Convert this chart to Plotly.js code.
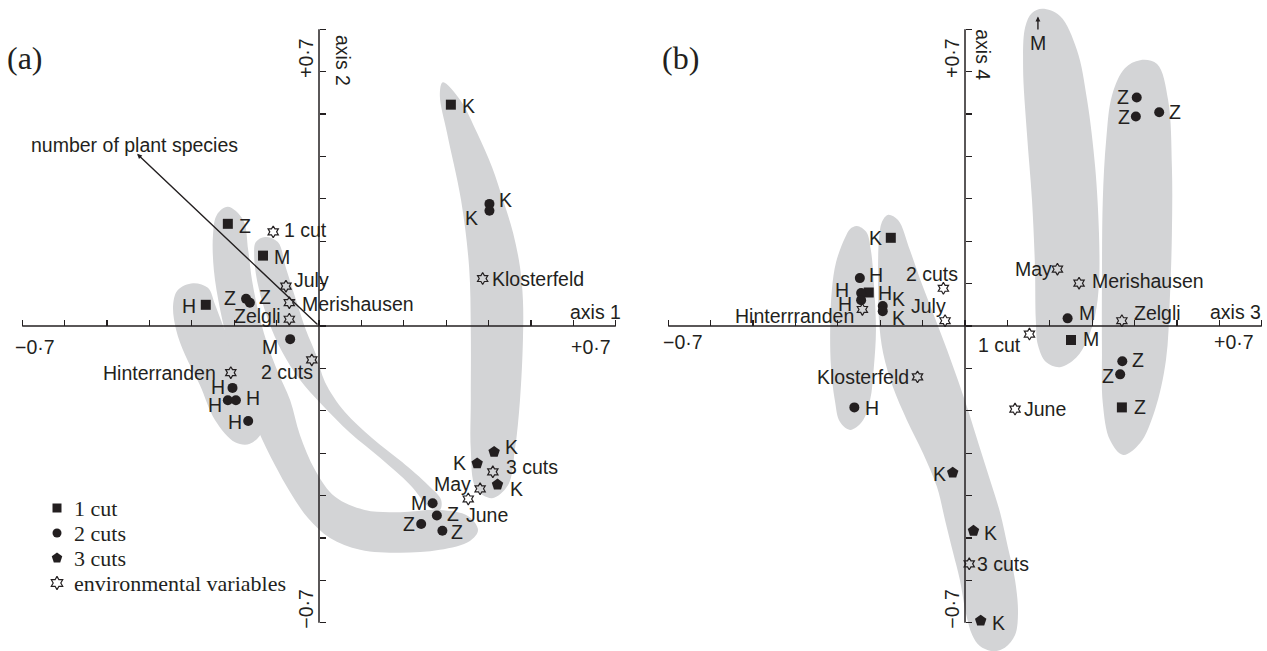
<!DOCTYPE html>
<html><head><meta charset="utf-8">
<script src="https://cdn.plot.ly/plotly-3.0.1.min.js"></script>
<style>html,body{margin:0;padding:0;background:#fff;} #chart{width:1267px;height:651px;}</style>
</head><body><div id="chart"></div>
<script>
// ---------- DATA ----------
const tickVals = [-0.7,-0.6,-0.5,-0.4,-0.3,-0.2,-0.1,0,0.1,0.2,0.3,0.4,0.5,0.6,0.7];
const tickEndLabels = ['\u22120\u00B77', '+0\u00B77'];
const axisNames = ['axis 1','axis 2','axis 3','axis 4'];
const panelNames = ['(a)','(b)'];
const groupNames = ['1 cut','2 cuts','3 cuts','environmental variables'];
const speciesVectorName = 'number of plant species';
const speciesVector = [-0.429, 0.406];   // axis 1, axis 2 scores

// Panel (a): axis 1 x axis 2
const a_cut1_x = [0.311, -0.215, -0.132, -0.267];
const a_cut1_y = [0.522, 0.241, 0.166, 0.050];
const a_cut1_lab = ['K','Z','M','H'];
const a_cut2_x = [0.402, 0.402, -0.172, -0.163, -0.068, -0.204, -0.215, -0.196, -0.167, 0.268, 0.278, 0.241, 0.291];
const a_cut2_y = [0.288, 0.272, 0.064, 0.055, -0.031, -0.146, -0.175, -0.175, -0.224, -0.418, -0.447, -0.467, -0.483];
const a_cut2_lab = ['K','K','Z','Z','M','H','H','H','H','M','Z','Z','Z'];
const a_cut3_x = [0.413, 0.373, 0.421];
const a_cut3_y = [-0.297, -0.324, -0.374];
const a_cut3_lab = ['K','K','K'];
const a_env_x = [-0.108, -0.078, -0.070, -0.070, -0.017, -0.208, 0.386, 0.410, 0.380, 0.352];
const a_env_y = [0.222, 0.094, 0.055, 0.016, -0.080, -0.110, 0.112, -0.344, -0.384, -0.408];
const a_env_lab = ['1 cut','July','Merishausen','Zelgli','2 cuts','Hinterranden','Klosterfeld','3 cuts','May','June'];

// Panel (b): axis 3 x axis 4
const b_cut1_x = [-0.175, -0.227, 0.250, 0.370];
const b_cut1_y = [0.208, 0.079, -0.033, -0.192];
const b_cut1_lab = ['K','H','M','Z'];
const b_cut2_x = [-0.248, -0.245, -0.245, -0.194, -0.194, -0.261, 0.405, 0.403, 0.458, 0.242, 0.371, 0.366];
const b_cut2_y = [0.113, 0.078, 0.061, 0.047, 0.035, -0.192, 0.539, 0.494, 0.504, 0.018, -0.083, -0.114];
const b_cut2_lab = ['H','H','H','K','K','H','Z','Z','Z','M','Z','Z'];
const b_cut3_x = [-0.029, 0.020, 0.037];
const b_cut3_y = [-0.346, -0.483, -0.695];
const b_cut3_lab = ['K','K','K'];
const b_env_x = [-0.242, -0.051, -0.047, -0.112, 0.152, 0.118, 0.218, 0.269, 0.370, 0.010];
const b_env_y = [0.039, 0.089, 0.0125, -0.120, -0.019, -0.196, 0.134, 0.101, 0.0125, -0.561];
const b_env_lab = ['Hinterrranden','2 cuts','July','Klosterfeld','1 cut','June','May','Merishausen','Zelgli','3 cuts'];
// off-scale site (axis 4 beyond +0.7)
const b_offscale_x = 0.172;
const b_offscale_lab = 'M';

// Grey site hulls (outline vertices, ordination units)
const a_hullK_x = [0.292,0.333,0.373,0.408,0.434,0.458,0.474,0.481,0.481,0.474,0.462,0.446,0.408,0.370,0.358,0.358,0.358,0.354,0.335,0.302,0.285];
const a_hullK_y = [0.575,0.533,0.455,0.375,0.297,0.219,0.139,0.061,-0.033,-0.175,-0.292,-0.375,-0.406,-0.382,-0.292,-0.175,-0.009,0.139,0.297,0.455,0.545];
const a_hullH_x = [-0.297,-0.262,-0.245,-0.222,-0.191,-0.158,-0.134,-0.132,-0.163,-0.198,-0.245,-0.281,-0.316,-0.337,-0.344,-0.333];
const a_hullH_y = [0.101,0.090,0.050,-0.009,-0.068,-0.139,-0.198,-0.245,-0.278,-0.274,-0.222,-0.139,-0.068,-0.009,0.050,0.085];
const a_hullZ_x = [-0.215,-0.179,-0.167,-0.158,-0.144,-0.125,-0.099,-0.068,-0.045,-0.009,0.038,0.108,0.191,0.285,0.351,0.375,0.356,0.285,0.191,0.097,0.026,-0.026,-0.068,-0.104,-0.144,-0.179,-0.210,-0.233,-0.248,-0.250,-0.241];
const a_hullZ_y = [0.281,0.250,0.179,0.108,0.038,-0.033,-0.104,-0.175,-0.257,-0.340,-0.403,-0.434,-0.439,-0.434,-0.448,-0.481,-0.507,-0.528,-0.535,-0.528,-0.500,-0.453,-0.392,-0.328,-0.245,-0.151,-0.057,0.038,0.132,0.215,0.262];
const a_hullM_x = [-0.127,-0.097,-0.078,-0.054,-0.031,-0.007,0.014,0.061,0.125,0.196,0.257,0.288,0.285,0.262,0.215,0.144,0.073,0.007,-0.045,-0.087,-0.120,-0.144,-0.153,-0.149];
const a_hullM_y = [0.210,0.198,0.137,0.061,-0.009,-0.068,-0.132,-0.203,-0.264,-0.321,-0.375,-0.410,-0.434,-0.429,-0.375,-0.311,-0.252,-0.186,-0.127,-0.061,0.014,0.097,0.167,0.198];

const b_hullH_x = [-0.255,-0.233,-0.222,-0.215,-0.210,-0.215,-0.224,-0.243,-0.271,-0.295,-0.307,-0.316,-0.318,-0.314,-0.304,-0.283,-0.271];
const b_hullH_y = [0.236,0.222,0.179,0.101,-0.009,-0.097,-0.175,-0.226,-0.245,-0.226,-0.175,-0.097,-0.009,0.085,0.151,0.208,0.229];
const b_hullK_x = [-0.182,-0.158,-0.130,-0.101,-0.071,-0.042,-0.017,0.007,0.033,0.059,0.083,0.101,0.118,0.125,0.118,0.094,0.066,0.035,0.017,0.002,-0.012,-0.028,-0.047,-0.066,-0.099,-0.137,-0.170,-0.193,-0.203,-0.205,-0.203,-0.196];
const b_hullK_y = [0.262,0.250,0.179,0.097,0.019,-0.057,-0.127,-0.198,-0.281,-0.363,-0.441,-0.521,-0.599,-0.677,-0.729,-0.759,-0.767,-0.755,-0.729,-0.677,-0.599,-0.535,-0.458,-0.380,-0.300,-0.222,-0.144,-0.064,0.014,0.108,0.203,0.245];
const b_hullM_x = [0.182,0.224,0.264,0.288,0.307,0.316,0.316,0.307,0.288,0.262,0.224,0.191,0.172,0.167,0.165,0.158,0.146,0.137,0.142,0.158];
const b_hullM_y = [0.748,0.731,0.651,0.533,0.375,0.219,0.101,0.026,-0.033,-0.075,-0.097,-0.085,-0.045,0.014,0.139,0.297,0.455,0.611,0.705,0.738];
const b_hullZ_x = [0.413,0.453,0.479,0.488,0.488,0.483,0.474,0.448,0.413,0.373,0.342,0.325,0.323,0.323,0.325,0.333,0.347,0.377];
const b_hullZ_y = [0.627,0.618,0.533,0.375,0.219,0.061,-0.080,-0.198,-0.276,-0.304,-0.269,-0.182,-0.057,0.108,0.297,0.439,0.545,0.608];

// ---------- STYLE ----------
const INK = '#231f20';
const GREY = '#d3d4d6';
const SANS = 'Liberation Sans, Arial, sans-serif';
const SERIF = 'Liberation Serif, Times New Roman, serif';
const LBL = 19.5;

// label placement: [anchor (l/r/c), x offset px, y offset px (down +)]
const a_cut1_off = [['l',10,1],['l',10,2],['l',10,1],['r',-9,1]];
const a_cut2_off = [['l',9,-4],['r',-10,7],['r',-9,-1],['l',8,-6],['r',-11,8],['r',-7,-1],['r',-5,5],['l',9,-2],['r',-5,1],['r',-5,0],['l',9,-2],['r',-5,0],['l',8,1]];
const a_cut3_off = [['l',10,-5],['r',-10,0],['l',11,4]];
const a_env_off = [['l',10,-2],['l',7,-6],['l',12,1],['r',-7,-3],['r',2,12],['r',-14,0],['l',8,0],['l',12,-5],['r',-8,-5],['l',-3,16]];
const b_cut1_off = [['r',-8,0],['l',8,0],['l',11,-1],['l',11,0]];
const b_cut2_off = [['l',8,-3],['r',-11,-3],['r',-8,4],['l',8,-7],['l',8,7],['l',10,1],['r',-7,0],['r',-5,0],['l',9,0],['l',10,-5],['l',9,-1],['r',-5,2]];
const b_cut3_off = [['r',-6,1],['l',10,2],['l',10,2]];
const b_env_off = [['r',-7,7],['c',-11,-14],['r',2,-15],['r',-8,0],['r',-7,11],['l',8,0],['r',-4,0],['l',12,-2],['l',11,-8],['l',7,0]];

const symbols = [
  {symbol:'square', size:10, line:{width:0}},
  {symbol:'circle', size:10, line:{width:0}},
  {symbol:'pentagon', size:12, line:{width:0}},
  {symbol:'hexagram-open', size:9, line:{width:1.2, color:INK}}
];

const W = 1267, H = 651;
const traces = [];
const ann = [];

function hull(x, y, xa, ya) {
  traces.push({type:'scatter', mode:'lines', x:x.concat([x[0]]), y:y.concat([y[0]]), xaxis:xa, yaxis:ya,
    fill:'toself', fillcolor:GREY, line:{width:0, shape:'spline', smoothing:1, color:GREY},
    hoverinfo:'skip', showlegend:false});
}
hull(a_hullK_x, a_hullK_y, 'x', 'y');
hull(a_hullH_x, a_hullH_y, 'x', 'y');
hull(a_hullZ_x, a_hullZ_y, 'x', 'y');
hull(a_hullM_x, a_hullM_y, 'x', 'y');
hull(b_hullH_x, b_hullH_y, 'x2', 'y2');
hull(b_hullK_x, b_hullK_y, 'x2', 'y2');
hull(b_hullM_x, b_hullM_y, 'x2', 'y2');
hull(b_hullZ_x, b_hullZ_y, 'x2', 'y2');

const ANCH = {l:'left', r:'right', c:'center'};
function series(x, y, lab, off, g, xa, ya) {
  const s = symbols[g];
  traces.push({type:'scatter', mode:'markers', x:x, y:y, xaxis:xa, yaxis:ya, name:groupNames[g],
    showlegend:false, cliponaxis:false,
    marker:{symbol:s.symbol, size:s.size, color:INK, line:s.line}, hoverinfo:'skip'});
  for (let i = 0; i < x.length; i++) {
    const o = off[i];
    ann.push({xref:xa, yref:ya, x:x[i], y:y[i], text:lab[i], showarrow:false,
      xanchor:ANCH[o[0]], yanchor:'middle', xshift:o[1], yshift:-o[2], borderpad:0,
      font:{family:SANS, size:LBL, color:INK}});
  }
}
series(a_cut1_x, a_cut1_y, a_cut1_lab, a_cut1_off, 0, 'x', 'y');
series(a_cut2_x, a_cut2_y, a_cut2_lab, a_cut2_off, 1, 'x', 'y');
series(a_cut3_x, a_cut3_y, a_cut3_lab, a_cut3_off, 2, 'x', 'y');
series(a_env_x, a_env_y, a_env_lab, a_env_off, 3, 'x', 'y');
series(b_cut1_x, b_cut1_y, b_cut1_lab, b_cut1_off, 0, 'x2', 'y2');
series(b_cut2_x, b_cut2_y, b_cut2_lab, b_cut2_off, 1, 'x2', 'y2');
series(b_cut3_x, b_cut3_y, b_cut3_lab, b_cut3_off, 2, 'x2', 'y2');
series(b_env_x, b_env_y, b_env_lab, b_env_off, 3, 'x2', 'y2');

// key (legend) drawn on its own pixel-unit axes
const keyX = 57, keyTextX = 73, keyRow0 = 508, keyRowGap = 25;
const keySizes = [9, 9, 11, 10];
groupNames.forEach((nm, g) => {
  const s = symbols[g];
  traces.push({type:'scatter', mode:'markers', x:[keyX], y:[keyRow0 + g * keyRowGap], xaxis:'x3', yaxis:'y3',
    marker:{symbol:s.symbol, size:keySizes[g], color:INK, line:s.line}, showlegend:false, hoverinfo:'skip', cliponaxis:false});
  ann.push({xref:'x3', yref:'y3', x:keyTextX, y:keyRow0 + g * keyRowGap, text:nm, showarrow:false,
    xanchor:'left', yanchor:'middle', borderpad:0, font:{family:SERIF, size:22, color:INK}});
});

// ---------- AXES ----------
const unitPx = 424;              // pixels per ordination unit
const origA = [319, 326], origB = [965, 326];
const yRange = [-(H - origA[1]) / unitPx, origA[1] / unitPx];
const xRangeA = [-(origA[0]) / unitPx, (W/2 - origA[0]) / unitPx];
const xRangeB = [-(origB[0] - W/2) / unitPx, (W - origB[0]) / unitPx];

const axBase = {showgrid:false, zeroline:false, showline:false, showticklabels:false,
  ticks:'inside', ticklen:6, tickwidth:1.3, tickcolor:INK, tickmode:'array', tickvals:tickVals,
  anchor:'free', fixedrange:true};

const shapes = [];
function axisLines(xa, ya) {
  shapes.push({type:'line', xref:xa, yref:ya, x0:tickVals[0], x1:tickVals[tickVals.length-1], y0:0, y1:0, line:{color:INK, width:1.5}});
  shapes.push({type:'line', xref:xa, yref:ya, y0:tickVals[0], y1:tickVals[tickVals.length-1], x0:0, x1:0, line:{color:INK, width:1.5}});
}
axisLines('x','y');
axisLines('x2','y2');

function txt(xa, ya, x, y, t, opts) {
  ann.push(Object.assign({xref:xa, yref:ya, x:x, y:y, text:t, showarrow:false, xanchor:'center', yanchor:'middle',
    borderpad:0, font:{family:SANS, size:LBL, color:INK}}, opts || {}));
}
// end tick labels
txt('x','y', -0.670, -0.050, tickEndLabels[0]);
txt('x','y', 0.642, -0.050, tickEndLabels[1]);
txt('x','y', -0.031, 0.632, tickEndLabels[1], {textangle:-90});
txt('x','y', -0.031, -0.667, tickEndLabels[0], {textangle:-90});
txt('x2','y2', -0.665, -0.038, tickEndLabels[0]);
txt('x2','y2', 0.634, -0.038, tickEndLabels[1]);
txt('x2','y2', -0.031, 0.632, tickEndLabels[1], {textangle:-90});
txt('x2','y2', -0.031, -0.667, tickEndLabels[0], {textangle:-90});
// axis names
txt('x','y', 0.653, 0.033, axisNames[0]);
txt('x','y', 0.057, 0.627, axisNames[1], {textangle:90});
txt('x2','y2', 0.639, 0.033, axisNames[2]);
txt('x2','y2', 0.042, 0.639, axisNames[3], {textangle:90});
// panel letters
txt('paper','paper', 25/W, 1 - 58/H, panelNames[0], {font:{family:SERIF, size:32, color:INK}});
txt('paper','paper', 680/W, 1 - 58/H, panelNames[1], {font:{family:SERIF, size:32, color:INK}});
// species-richness vector
ann.push({xref:'x', yref:'y', axref:'x', ayref:'y', x:speciesVector[0], y:speciesVector[1], ax:0, ay:0,
  text:'', showarrow:true, arrowhead:2, arrowsize:0.7, arrowwidth:1.4, arrowcolor:INK, standoff:0, startstandoff:0});
txt('x','y', speciesVector[0] - 0.007, speciesVector[1] + 0.021, speciesVectorName);
// off-scale M in panel (b)
ann.push({xref:'x2', yref:'y2', axref:'x2', ayref:'y2', x:b_offscale_x, y:0.730, ax:b_offscale_x, ay:0.696,
  text:'', showarrow:true, arrowhead:2, arrowsize:0.7, arrowwidth:1.4, arrowcolor:INK, standoff:0, startstandoff:0});
txt('x2','y2', b_offscale_x, 0.668, b_offscale_lab);

const layout = {
  width:W, height:H, margin:{l:0, r:0, t:0, b:0},
  paper_bgcolor:'#ffffff', plot_bgcolor:'rgba(0,0,0,0)',
  showlegend:false,
  xaxis: Object.assign({}, axBase, {domain:[0, 0.5], range:xRangeA, position:(H - origA[1]) / H}),
  yaxis: Object.assign({}, axBase, {domain:[0, 1], range:yRange, position:origA[0] / W}),
  xaxis2: Object.assign({}, axBase, {domain:[0.5, 1], range:xRangeB, position:(H - origB[1]) / H}),
  yaxis2: Object.assign({}, axBase, {domain:[0, 1], range:yRange, position:origB[0] / W}),
  xaxis3: {domain:[0, 0.5], range:[0, W/2], visible:false, anchor:'y3', fixedrange:true},
  yaxis3: {domain:[0, 1], range:[H, 0], visible:false, anchor:'x3', fixedrange:true},
  shapes:shapes, annotations:ann
};

Plotly.newPlot('chart', traces, layout, {displayModeBar:false, staticPlot:true});
</script></body></html>
